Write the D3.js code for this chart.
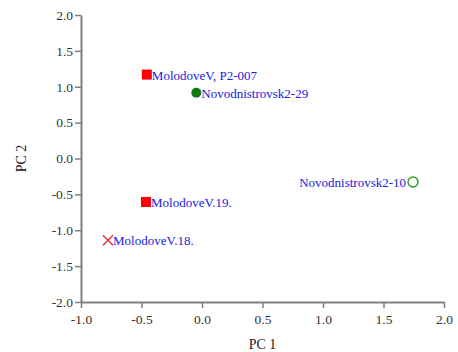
<!DOCTYPE html>
<html>
<head>
<meta charset="utf-8">
<script src="https://cdn.jsdelivr.net/npm/d3@7"></script>
<style>
  html, body { margin: 0; padding: 0; background: #fff; }
  svg { display: block; }
</style>
</head>
<body>
<svg id="chart" width="458" height="352"></svg>
<script>
// PCA scores for each sample
const sampleNames = ["MolodoveV, P2-007", "Novodnistrovsk2-29", "MolodoveV.19.", "MolodoveV.18.", "Novodnistrovsk2-10"];
const pc1Values = [-0.456, -0.047, -0.463, -0.777, 1.744];
const pc2Values = [1.17, 0.917, -0.606, -1.139, -0.328];
const markerKinds = ["square", "dot", "square", "cross", "ring"];
const labelSides = ["right", "right", "right", "right", "left"];

const xTicks = [-1.0, -0.5, 0.0, 0.5, 1.0, 1.5, 2.0];
const yTicks = [-2.0, -1.5, -1.0, -0.5, 0.0, 0.5, 1.0, 1.5, 2.0];

const W = 458, H = 352;
const margin = { top: 15, right: 14, bottom: 50, left: 81 };

const svg = d3.select("#chart");
const font = "'Liberation Serif', 'Times New Roman', serif";

const x = d3.scaleLinear().domain([-1, 2]).range([margin.left, W - margin.right]);
const y = d3.scaleLinear().domain([-2, 2]).range([H - margin.bottom, margin.top]);

const axisColor = "#808080";
// one decimal, plain hyphen for negatives
const fmt = v => v.toFixed(1);

// x axis
const gx = svg.append("g")
  .attr("transform", `translate(0,${H - margin.bottom})`)
  .call(d3.axisBottom(x).tickValues(xTicks).tickFormat(fmt).tickSize(6).tickSizeOuter(0));

// y axis
const gy = svg.append("g")
  .attr("transform", `translate(${margin.left},0)`)
  .call(d3.axisLeft(y).tickValues(yTicks).tickFormat(fmt).tickSize(6).tickSizeOuter(0));

[gx, gy].forEach(g => {
  g.attr("font-family", font).attr("font-size", 13);
  g.select(".domain").attr("stroke", axisColor).attr("stroke-width", 2);
  g.selectAll(".tick line").attr("stroke", axisColor).attr("stroke-width", 1.5);
  g.selectAll(".tick text")
    .attr("fill", "#333")
    .style("font-family", font)
    .style("font-size", "13.5px");
});
gx.selectAll(".tick text").attr("dy", "0.95em");
gy.selectAll(".tick text").attr("x", -8);

// axis titles
svg.append("text")
  .attr("x", (x.range()[0] + x.range()[1]) / 2)
  .attr("y", 349)
  .attr("text-anchor", "middle")
  .attr("fill", "#222")
  .style("font-family", font)
  .style("font-size", "14px")
  .text("PC 1");

svg.append("text")
  .attr("transform", `translate(26,${(y.range()[0] + y.range()[1]) / 2}) rotate(-90)`)
  .attr("text-anchor", "middle")
  .attr("fill", "#222")
  .style("font-family", font)
  .style("font-size", "14px")
  .text("PC 2");

// samples
const data = sampleNames.map((name, i) => ({
  name, pc1: pc1Values[i], pc2: pc2Values[i], kind: markerKinds[i], side: labelSides[i]
}));

const pts = svg.append("g").selectAll("g.pt").data(data).join("g")
  .attr("class", "pt")
  .attr("transform", d => `translate(${x(d.pc1)},${y(d.pc2)})`);

pts.each(function(d) {
  const g = d3.select(this);
  if (d.kind === "square") {
    g.append("rect").attr("x", -5).attr("y", -5).attr("width", 10).attr("height", 10).attr("fill", "#ff0000");
  } else if (d.kind === "dot") {
    g.append("circle").attr("r", 5).attr("fill", "#117a11");
  } else if (d.kind === "ring") {
    g.append("circle").attr("r", 5).attr("fill", "none").attr("stroke", "#2a9a2a").attr("stroke-width", 1.4);
  } else if (d.kind === "cross") {
    g.append("path").attr("d", "M-5,-5L5,5M-5,5L5,-5").attr("stroke", "#e53535").attr("stroke-width", 1.5).attr("fill", "none");
  }
});

pts.append("text")
  .attr("x", d => d.side === "right" ? 5 : -7)
  .attr("dy", "0.4em")
  .attr("text-anchor", d => d.side === "right" ? "start" : "end")
  .attr("fill", "#2020e0")
  .style("font-family", font)
  .style("font-size", "13px")
  .text(d => d.name);
</script>
</body>
</html>
